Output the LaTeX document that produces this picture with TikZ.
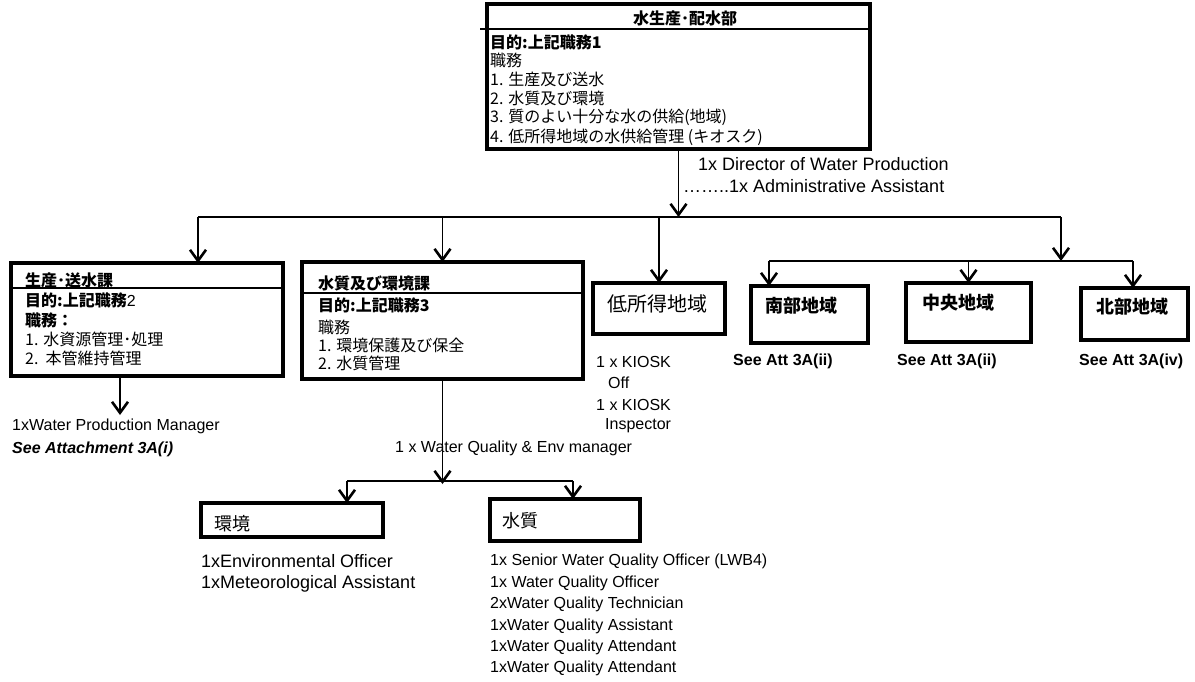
\documentclass[tikz,border=0pt]{standalone}
\usepackage{fontspec}
\setmainfont{Liberation Sans}
\newfontfamily\jp{Noto Sans CJK JP}
\usetikzlibrary{arrows.meta}

\tikzset{
  box/.style={draw,line width=3.2pt,anchor=north west,inner sep=0,outer sep=0},
  conn/.style={line width=1.6pt},
  arr/.style={conn,-{Straight Barb[length=11pt,width=16pt,line width=2.6pt]}},
  sep/.style={line width=1.1pt},
  txt/.style={anchor=west,inner sep=0,font=\fontsize{16}{19}\selectfont},
  mtxt/.style={txt,font=\fontsize{18}{21}\selectfont},
  btxt/.style={txt,font=\bfseries\fontsize{16}{19}\selectfont},
  jtxt/.style={txt,font=\jp\fontsize{16}{19}\selectfont},
  jbold/.style={txt,font=\jp\bfseries\fontsize{16}{19}\selectfont},
  jbig/.style={txt,font=\jp\fontsize{18}{21}\selectfont},
  jbigb/.style={txt,font=\jp\bfseries\fontsize{18}{21}\selectfont},
}

\begin{document}
\begin{tikzpicture}[x=1pt,y=-1pt]
\useasboundingbox (0,0) rectangle (1195,681);

% ---------- department box ----------
\node[box,minimum width=383pt,minimum height=145pt] (T) at (487,4) {};
\draw[sep] (480,29) -- (870,29);
\node[jbold,anchor=center] (Ttitle) at (685,18) {水生産･配水部};
\node[jbold] (T1) at (490,42) {目的:上記職務1};
\node[jtxt]  (T2) at (490,60) {職務};
\node[jtxt]  (T3) at (490,79) {1. 生産及び送水};
\node[jtxt]  (T4) at (490,98) {2. 水質及び環境};
\node[jtxt]  (T5) at (490,117) {3. 質のよい十分な水の供給(地域)};
\node[jtxt]  (T6) at (490,137) {4. 低所得地域の水供給管理 (キオスク)};
\node[mtxt] (dir) at (698,164) {1x Director of Water Production};
\node[mtxt] (adm) at (683,186) {……..1x Administrative Assistant};

% ---------- section boxes ----------
\node[box,minimum width=272pt,minimum height=113pt] (B1) at (11,263) {};
\draw[sep] (12,288) -- (281,288);
\node[jbold] (B1t) at (25,280) {生産･送水課};
\node[txt] (B1a) at (25,300) {{\jp\bfseries 目的:上記職務}2};
\node[jbold] (B1b) at (25,320) {職務：};
\node[jtxt] (B1c) at (25,339) {1. 水資源管理･処理};
\node[jtxt] (B1d) at (25,358) {2.\ \ 本管維持管理};

\node[box,minimum width=281pt,minimum height=117pt] (B2) at (302,262) {};
\draw[sep] (303,293) -- (581,293);
\node[jbold] (B2t) at (318,283) {水質及び環境課};
\node[jbold] (B2a) at (318,305) {目的:上記職務3};
\node[jtxt] (B2b) at (318,327) {職務};
\node[jtxt] (B2c) at (318,345) {1. 環境保護及び保全};
\node[jtxt] (B2d) at (318,363) {2. 水質管理};

\node[box,minimum width=132pt,minimum height=51pt] (L) at (593,283) {};
\node[jbig,font=\jp\fontsize{20}{23}\selectfont] (Lt) at (607,304) {低所得地域};

\node[box,minimum width=117pt,minimum height=57pt] (S) at (751,286) {};
\node[jbigb] (St) at (765,306) {南部地域};
\node[box,minimum width=125pt,minimum height=59pt] (C) at (906,283) {};
\node[jbigb] (Ct) at (922,303) {中央地域};
\node[box,minimum width=107pt,minimum height=52pt] (N) at (1081,288) {};
\node[jbigb] (Nt) at (1096,307) {北部地域};

% ---------- units under water quality ----------
\node[box,minimum width=182pt,minimum height=34pt] (E) at (201,503) {};
\node[jbig] (Et) at (214,524) {環境};
\node[box,minimum width=150pt,minimum height=42pt] (Q) at (490,499) {};
\node[jbig] (Qt) at (502,521) {水質};

% ---------- staff texts ----------
\node[txt] (wpm) at (12,426) {1xWater Production Manager};
\node[btxt,font=\bfseries\itshape\fontsize{16}{19}\selectfont] (att) at (12,449) {See Attachment 3A(i)};

\node[txt] (k1) at (596,362) {1 x KIOSK};
\node[txt] (k2) at (608,383) {Off};
\node[txt] (k3) at (596,405) {1 x KIOSK};
\node[txt] (k4) at (605,426) {Inspector};

\node[btxt] (sa1) at (733,361) {See Att 3A(ii)};
\node[btxt] (sa2) at (897,361) {See Att 3A(ii)};
\node[btxt] (sa3) at (1079,361) {See Att 3A(iv)};

\node[txt] (wqm) at (395,448) {1 x Water Quality \& Env manager};

\node[mtxt] (e1) at (201,561) {1xEnvironmental Officer};
\node[mtxt] (e2) at (201,584) {1xMeteorological Assistant};

\node[txt] (q1) at (490,561) {1x Senior Water Quality Officer (LWB4)};
\node[txt] (q2) at (490,583) {1x Water Quality Officer};
\node[txt] (q3) at (490,604) {2xWater Quality Technician};
\node[txt] (q4) at (490,626) {1xWater Quality Assistant};
\node[txt] (q5) at (490,647) {1xWater Quality Attendant};
\node[txt] (q6) at (490,668) {1xWater Quality Attendant};

% ---------- connectors ----------
\coordinate (busL) at (198,217);
\coordinate (busR) at (1061,217);
\coordinate (rbusL) at (769,261);
\coordinate (rbusR) at (1133,261);
\coordinate (wbusL) at (347,481);
\coordinate (wbusR) at (573,481);
\coordinate (wpmTip) at (120,415);

\draw[arr] (T.south) -- (T.south |- busL);
\draw[conn] (busL) -- (busR);
\draw[arr] (busL) -- (busL |- B1.north);
\draw[arr] (B2.north |- busL) -- (B2.north);
\draw[arr] (L.north |- busL) -- (L.north);
\draw[arr] (busR) -- (busR |- rbusL);

\draw[conn] (rbusL) -- (rbusR);
\draw[arr] (rbusL) -- (rbusL |- S.north);
\draw[arr] (C.north |- rbusL) -- (C.north);
\draw[arr] (rbusR) -- (rbusR |- N.north);

\draw[arr] (wpmTip |- B1.south) -- (wpmTip);

\draw[arr] (B2.south) -- ([yshift=-3pt]B2.south |- wbusL);
\draw[conn] (wbusL) -- (wbusR);
\draw[arr] (wbusL) -- (wbusL |- E.north);
\draw[arr] (wbusR) -- (wbusR |- Q.north);
\end{tikzpicture}
\end{document}
